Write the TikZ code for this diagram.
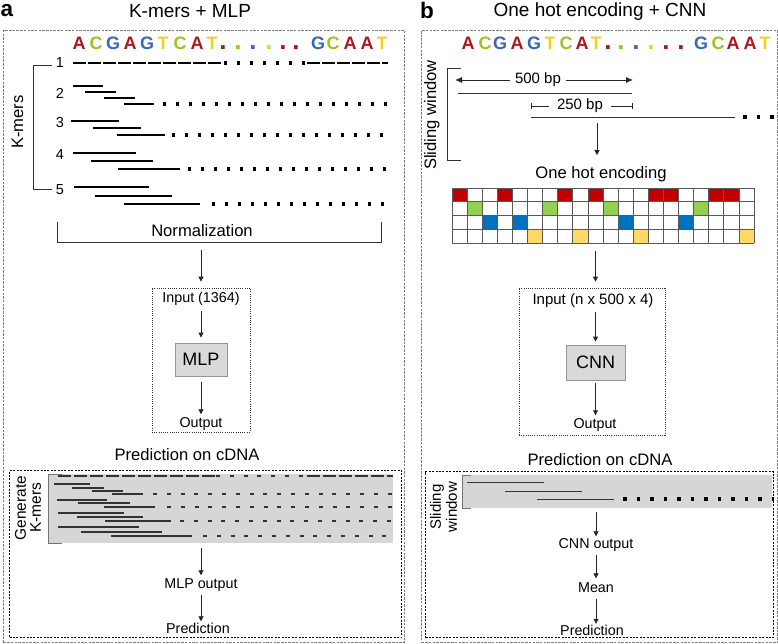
\documentclass[tikz,border=0pt]{standalone}
\usepackage{fontspec}
\setmainfont{Liberation Sans}
\usetikzlibrary{arrows.meta}
\definecolor{cR}{RGB}{178,20,30}
\definecolor{cG}{RGB}{160,195,30}
\definecolor{cB}{RGB}{55,105,185}
\definecolor{cY}{RGB}{240,210,30}
\definecolor{gR}{RGB}{192,0,0}
\definecolor{gG}{RGB}{146,208,80}
\definecolor{gB}{RGB}{0,112,192}
\definecolor{gY}{RGB}{255,217,102}
\definecolor{obox}{RGB}{125,125,125}
\definecolor{pfill}{RGB}{217,217,217}
\definecolor{pedge}{RGB}{150,150,150}
\definecolor{gfill}{RGB}{214,214,214}
\begin{document}
\begin{tikzpicture}[x=1pt,y=-1pt,
  every node/.style={inner sep=0pt},
  t14/.style={font=\fontsize{14.3}{16}\selectfont, text height=10pt, text depth=3pt},
  t15/.style={font=\fontsize{15}{17}\selectfont, text height=10.8pt, text depth=3.2pt},
  t16/.style={font=\fontsize{16.6}{18}\selectfont, text height=11.8pt, text depth=3.5pt},
  ttl/.style={font=\fontsize{19}{20}\selectfont, anchor=base},
  plab/.style={font=\fontsize{22.5}{24}\selectfont\bfseries, anchor=base west},
  seq/.style={font=\fontsize{18}{18}\selectfont\bfseries, anchor=base},
  seqdot/.style={font=\fontsize{26}{26}\selectfont\bfseries, anchor=base},
  num/.style={font=\fontsize{14.5}{16}\selectfont},
  arr/.style={draw=black!85, line width=0.8pt, -{Triangle[length=5pt,width=5pt]}},
  brk/.style={draw=black!80, line width=0.9pt},
  gbrk/.style={draw=black!55, line width=1pt},
  outerbox/.style={draw=obox, line width=1pt, dash pattern=on 2.5pt off 1.2pt},
  inbox/.style={draw=black!80, line width=0.7pt, dash pattern=on 1pt off 1.2pt},
  predbox/.style={draw=black, line width=1.2pt, dash pattern=on 2pt off 1.4pt},
  procbox/.style={draw=pedge, fill=pfill, line width=0.8pt},
  kline/.style={line width=2.5pt},
  kdash/.style={line width=2.5pt, dash pattern=on 12.5pt off 2.5pt},
  kdot/.style={line width=3.2pt, dash pattern=on 3.2pt off 9.8pt},
  gline/.style={line width=1.2pt, draw=black!80},
  gdash/.style={line width=1.2pt, draw=black!80, dash pattern=on 13pt off 3pt},
  gdot/.style={line width=1.4pt, draw=black!80, dash pattern=on 4pt off 9.8pt},
  sline/.style={line width=0.9pt, draw=black!80},
  sdot/.style={line width=3.5pt, draw=black, dash pattern=on 3.5pt off 10pt},
  dim/.style={line width=0.9pt, draw=black!85},
  gridl/.style={draw=black!65, line width=0.7pt},
]
\useasboundingbox (0,0) rectangle (778,644);

% ---------------- panel a ----------------
\node[plab] (la) at (0.5,17) {a};
\node[ttl] (ta) at (190,18) {K-mers + MLP};
\node[outerbox, minimum width=401, minimum height=612, anchor=north west] (panA) at (3,30) {};

\foreach \x/\l/\c [count=\i] in {79/A/cR,96/C/cG,113/G/cB,130/A/cR,147/G/cB,163/T/cY,180/C/cG,197/A/cR,212/T/cY,318/G/cB,333/C/cG,350/A/cR,367/A/cR,382/T/cY}
  \node[seq, text=\c] (sa\i) at (\x,50) {\l};
\foreach \x/\c [count=\i] in {223/cR,238/cG,253/cB,269/cY,283/cR,296/cR}
  \node[seqdot, text=\c] (sad\i) at (\x,50) {.};

% K-mers bracket and labels
\draw[brk] (52,65) -- (33,65) -- (33,189) -- (52,189);
\node[t16, rotate=90] (kml) at (19,122) {K-mers};
\node[num] (n1) at (60,63) {1};
\node[num] (n2) at (60,93) {2};
\node[num] (n3) at (60,123) {3};
\node[num] (n4) at (60,155) {4};
\node[num] (n5) at (60,190) {5};

% row 1
\draw[kdash] (73,63) -- (222,63);
\draw[kdot] (224,63) -- (305,63);
\draw[kdash] (307,63) -- (388,63);
% row 2
\draw[kline] (73,86) -- (103,86);
\draw[kline] (85,92) -- (116,92);
\draw[kline] (104,98) -- (135,98);
\draw[kline] (124,104) -- (154,104);
\draw[kdot] (163,104) -- (389,104);
% row 3
\draw[kline] (71,121) -- (119,121);
\draw[kline] (93,128) -- (141,128);
\draw[kline] (117,135) -- (165,135);
\draw[kdot] (172,135) -- (389,135);
% row 4
\draw[kline] (73,153) -- (136,153);
\draw[kline] (91,161) -- (153,161);
\draw[kline] (118,169) -- (180,169);
\draw[kdot] (188,169) -- (389,169);
% row 5
\draw[kline] (74,187) -- (149,187);
\draw[kline] (95,196) -- (172,196);
\draw[kline] (124,204) -- (200,204);
\draw[kdot] (212,204) -- (389,204);

% normalization
\draw[brk] (57,222) -- (57,242) -- (381,242) -- (381,222);
\node[t16] (nrm) at (202,232) {Normalization};
\coordinate (nrmb) at (201,242);

% input / MLP
\node[inbox, minimum width=98, minimum height=144] (inA) at (201,360) {};
\node[t14] (inAt) at (201,299) {Input (1364)};
\node[procbox, minimum width=52, minimum height=33, font=\fontsize{18}{20}\selectfont] (mlp) at (201,359.5) {MLP};
\node[t14] (outA) at (201,424) {Output};
\draw[arr, shorten <=8pt, shorten >=6pt] (nrmb) -- (nrmb |- inA.north);
\draw[arr, shorten <=5pt, shorten >=5pt] (inAt) -- (mlp);
\draw[arr, shorten <=6pt, shorten >=3pt] (mlp) -- (outA);

% prediction on cDNA
\node[t16] (pcA) at (187,456) {Prediction on cDNA};
\node[predbox, minimum width=392, minimum height=167, anchor=north west] (predA) at (9,470) {};
\node[fill=gfill, minimum width=345, minimum height=69, anchor=north west] (gA) at (48,474) {};
\draw[gbrk] (62,474) -- (48,474) -- (48,543) -- (62,543);
\node[rotate=90, align=center, font=\fontsize{15.5}{15}\selectfont] (genk) at (28,508) {Generate\\K-mers};
% lines in gray box
\draw[gdash] (58,476) -- (218,476);
\draw[gdot] (216,476) -- (305,476);
\draw[gdash] (307,476) -- (393,476);
\draw[gline] (54,484) -- (90,484);
\draw[gline] (72,488) -- (104,488);
\draw[gline] (92,491) -- (123,491);
\draw[gline] (112,494) -- (143,494);
\draw[gdot] (153,494) -- (393,494);
\draw[gline] (57,500) -- (107,500);
\draw[gline] (78,503) -- (130,503);
\draw[gline] (104,507) -- (155,507);
\draw[gdot] (167,507) -- (393,507);
\draw[gline] (58,513) -- (124,513);
\draw[gline] (77,517) -- (143,517);
\draw[gline] (105,521) -- (171,521);
\draw[gdot] (180,521) -- (393,521);
\draw[gline] (58,527) -- (139,527);
\draw[gline] (81,532) -- (162,532);
\draw[gline] (111,536) -- (192,536);
\draw[gdot] (203,536) -- (393,536);

\node[t14] (mlpo) at (201,585) {MLP output};
\node[t14] (preda) at (198,630) {Prediction};
\draw[arr, shorten <=5pt, shorten >=3pt] (gA.south -| mlpo) -- (mlpo);
\draw[arr, shorten <=3pt, shorten >=2pt] (mlpo) -- (mlpo |- preda.north);

% ---------------- panel b ----------------
\node[plab] (lb) at (420,18.5) {b};
\node[ttl] (tb) at (600,17) {One hot encoding + CNN};
\node[outerbox, minimum width=356, minimum height=612, anchor=north west] (panB) at (421,30) {};

\foreach \x/\l/\c [count=\i] in {468/A/cR,485/C/cG,500/G/cB,517/A/cR,534/G/cB,550/T/cY,566/C/cG,582/A/cR,596/T/cY,701/G/cB,718/C/cG,733/A/cR,750/A/cR,765/T/cY}
  \node[seq, text=\c] (sb\i) at (\x,50) {\l};
\foreach \x/\c [count=\i] in {608/cR,621/cG,636/cB,651/cY,666/cR,681/cR}
  \node[seqdot, text=\c] (sbd\i) at (\x,50) {.};

% sliding window
\draw[brk] (461,68) -- (447,68) -- (447,160) -- (461,160);
\node[t16, rotate=90] (swl) at (432,115) {Sliding window};
\coordinate (w5l) at (455,80);
\coordinate (w5r) at (633,80);
\draw[dim, {Latex[length=7pt,width=6pt]}-{Latex[length=7pt,width=6pt]}] (w5l) -- node[pos=0.466, fill=white, inner xsep=5pt, t15] (bp500) {500 bp} (w5r);
\draw[sline] (458,93) -- (632,93);
\coordinate (w2l) at (531,106);
\coordinate (w2r) at (633,106);
\draw[dim, {Bar[width=6pt]}-{Bar[width=6pt]}] (w2l) -- node[pos=0.48, fill=white, inner xsep=8pt, t15] (bp250) {250 bp} (w2r);
\draw[sline] (531,117) -- (735,117);
\draw[sdot] (743,117) -- (776,117);
\coordinate (swb) at (597,117);

\node[t16] (ohl) at (601,174) {One hot encoding};
\draw[arr, shorten <=6pt, shorten >=11pt] (swb) -- (swb |- ohl.north);

% one-hot grid
\node[minimum width=302, minimum height=55] (ohe) at (603,215.5) {};
\foreach \c/\r/\col in {0/0/gR,3/0/gR,7/0/gR,9/0/gR,13/0/gR,14/0/gR,17/0/gR,18/0/gR,1/1/gG,6/1/gG,10/1/gG,16/1/gG,2/2/gB,4/2/gB,11/2/gB,15/2/gB,5/3/gY,8/3/gY,12/3/gY,19/3/gY}
  \fill[\col] ({452+15.1*\c},{188+13.75*\r}) rectangle ++(15.1,13.75);
\foreach \c in {0,...,20}
  \draw[gridl] ({452+15.1*\c},188) -- ({452+15.1*\c},243);
\foreach \r in {0,...,4}
  \draw[gridl] (452,{188+13.75*\r}) -- (754,{188+13.75*\r});

% input / CNN
\node[inbox, minimum width=146, minimum height=147] (inB) at (592,361.5) {};
\node[t15] (inBt) at (593,301) {Input (n x 500 x 4)};
\node[procbox, minimum width=59, minimum height=35, font=\fontsize{18}{20}\selectfont] (cnn) at (595.5,362.5) {CNN};
\node[t14] (outB) at (595,425) {Output};
\draw[arr, shorten <=8pt, shorten >=6pt] (ohe.south -| cnn) -- (inB.north -| cnn);
\draw[arr, shorten <=4pt, shorten >=3pt] (inBt.south -| cnn) -- (cnn);
\draw[arr, shorten <=3pt, shorten >=3pt] (cnn) -- (cnn |- outB.north);

% prediction on cDNA
\node[t16] (pcB) at (600,461) {Prediction on cDNA};
\node[predbox, minimum width=348, minimum height=166, anchor=north west] (predB) at (425,471) {};
\node[fill=gfill, minimum width=310, minimum height=33, anchor=north west] (gB) at (462,475) {};
\draw[gbrk] (471,475) -- (462,475) -- (462,508) -- (471,508);
\node[rotate=90, align=center, font=\fontsize{15}{16}\selectfont] (swl2) at (443.5,507) {Sliding\\window};
\draw[sline] (467,482) -- (544,482);
\draw[sline] (505,491) -- (582,491);
\draw[sline] (537,499) -- (614,499);
\draw[sdot] (623,499) -- (774,499);

\node[t14] (cnno) at (596,545) {CNN output};
\node[t14] (mean) at (596,589) {Mean};
\node[t14] (predb) at (592,632) {Prediction};
\draw[arr, shorten <=4pt, shorten >=2pt] (gB.south -| cnno) -- (cnno);
\draw[arr, shorten <=3pt, shorten >=4pt] (cnno) -- (mean);
\draw[arr, shorten <=3pt, shorten >=1.5pt] (mean) -- (mean |- predb.north);
\end{tikzpicture}
\end{document}
